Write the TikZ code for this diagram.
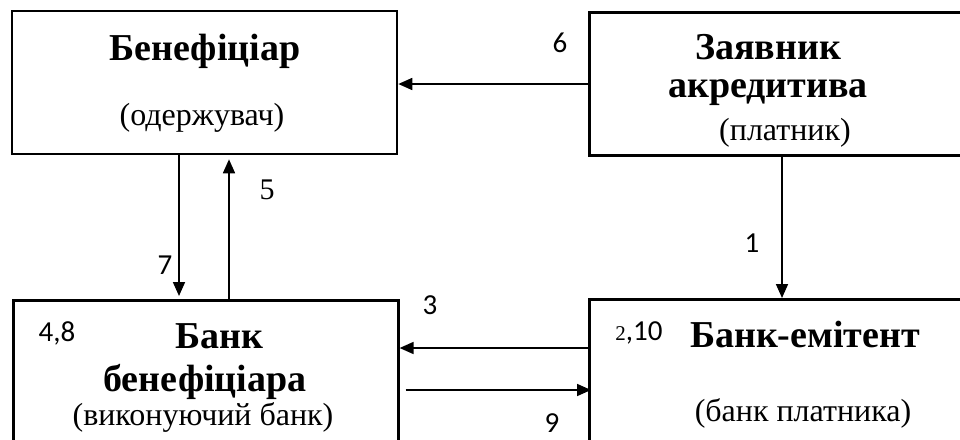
\documentclass[tikz,border=0pt]{standalone}
\usepackage{fontspec}
\setmainfont{Liberation Serif}
\newfontfamily\numfont{Carlito}
\usetikzlibrary{arrows.meta}
\begin{document}
\begin{tikzpicture}[x=1pt,y=-1pt,
  boxst/.style={draw,line width=2.6pt,rectangle,inner sep=0pt},
  arr/.style={line width=1.7pt,-{Triangle[length=14pt,width=12pt]}},
  ttl/.style={font=\fontsize{38}{39}\selectfont\bfseries,inner sep=0pt},
  sub/.style={font=\fontsize{32}{33}\selectfont,inner sep=0pt},
  num/.style={font=\fontsize{29}{30}\selectfont\numfont,inner sep=0pt},
  snum/.style={font=\fontsize{30}{31}\selectfont,inner sep=0pt}]
\useasboundingbox (0,0) rectangle (960,439);
\clip (0,0) rectangle (960,439);
% boxes
\node[boxst,minimum width=385pt,minimum height=143pt] (tl) at (204.5,82.5) {};
\node[boxst,minimum width=420pt,minimum height=143pt,anchor=north west] (tr) at (588,11) {};
\node[boxst,minimum width=385pt,minimum height=200pt,anchor=north west] (bl) at (12,299) {};
\node[boxst,minimum width=420pt,minimum height=200pt,anchor=north west] (br) at (588,298) {};
% texts
\node[ttl] (t1) at (205,51) {Бенефіціар};
\node[sub] (s1) at (202,118) {(одержувач)};
\node[ttl,align=center,font=\fontsize{38}{38}\selectfont\bfseries] (t2) at (768,70) {Заявник\\акредитива};
\node[sub] (s2) at (785,133) {(платник)};
\node[ttl,align=center,font=\fontsize{38}{43}\selectfont\bfseries] (t3) at (205,362) {\hspace*{28pt}Банк\\бенефіціара};
\node[sub] (s3) at (203,417) {(виконуючий банк)};
\node[ttl] (t4) at (805,334) {Банк-емітент};
\node[sub] (s4) at (803,413) {(банк платника)};
% helper coordinates
\coordinate (y6) at (0,84);
\coordinate (x1) at (782,0);
\coordinate (x7) at (179,0);
\coordinate (x5) at (229,0);
\coordinate (y3) at (0,348);
\coordinate (y9) at (0,390);
% connectors
\draw[arr] (tr.west |- y6) -- (tl.east |- y6);
\draw[arr] (tr.south -| x1) -- (br.north -| x1);
\draw[arr,shorten >=3pt] (tl.south -| x7) -- (bl.north -| x7);
\draw[arr,shorten >=4pt] (bl.north -| x5) -- (tl.south -| x5);
\draw[arr] (br.west |- y3) -- (bl.east |- y3);
\draw[arr,shorten <=6pt,shorten >=-3pt] (bl.east |- y9) -- (br.west |- y9);
% labels
\node[num] (l6) at (560,43) {6};
\node[snum] (l5) at (267,190) {5};
\node[num] (l7) at (165,265) {7};
\node[num] (l1) at (752,243) {1};
\node[num] (l3) at (430,305) {3};
\node[num] (l9) at (552,423) {9};
\node[num] (l48) at (57,333) {4,8};
\node[num] (l210) at (639,333) {{\fontsize{21}{22}\selectfont\rmfamily 2},10};
\end{tikzpicture}
\end{document}
